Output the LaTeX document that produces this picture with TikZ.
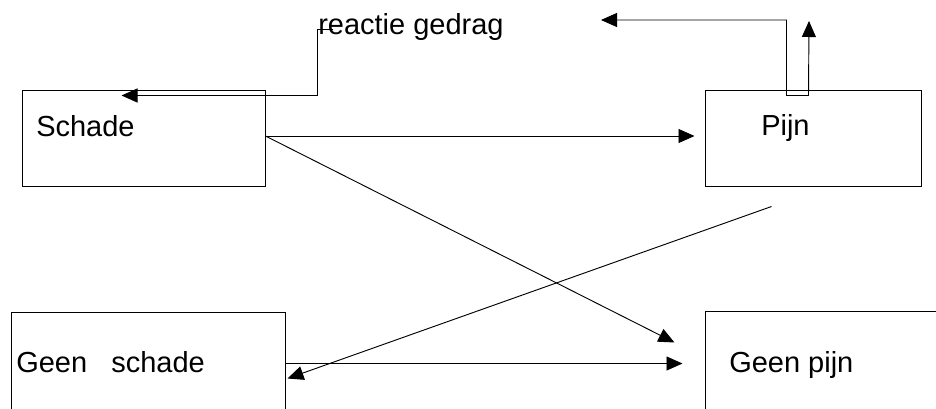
\documentclass[tikz,border=0pt]{standalone}
\usepackage{fontspec}
\setmainfont{Liberation Sans}
\usetikzlibrary{arrows.meta,fit,calc}
\begin{document}
\begin{tikzpicture}[x=0.75pt,y=-0.75pt,
  box/.style={draw,line width=0.75pt,inner sep=0pt},
  lbl/.style={anchor=base west,inner sep=0pt,font=\fontsize{21.75}{26}\selectfont},
  link/.style={line width=0.7pt,-{Triangle[length=12pt,width=10.5pt]}},
  twoway/.style={line width=0.7pt,{Triangle[length=12pt,width=10.5pt]}-{Triangle[length=12pt,width=10.5pt]}}]
\clip (0,0) rectangle (936,408);
\fill[white] (0,0) rectangle (936,408);

% boxes
\node[box,fit={(22,90)(265,186)}] (schade) {};
\node[box,fit={(705,90)(921,186)}] (pijn) {};
\node[box,fit={(11,312)(285,440)}] (geenschade) {};
\node[box,fit={(705,311)(960,440)}] (geenpijn) {};

% labels
\node[lbl] (tschade) at (36,136) {Schade};
\node[lbl] (tpijn) at (761,135) {Pijn};
\node[lbl] (tgeenschade) at (16,372) {Geen\ \ \ schade};
\node[lbl] (tgeenpijn) at (729,372) {Geen pijn};
\node[lbl] (treactie) at (318,34) {reactie gedrag};

% free ends
\coordinate (rgstart) at (333,29);
\coordinate (lefttip) at (601,20);
\coordinate (uptip) at (809,21);

% connectors
\draw[link,shorten >=7.5pt] ($(schade.east)+(0,-2)$) -- ($(pijn.west)+(0,-2)$);
\draw[link] ($(schade.east)+(0,-2)$) -- ($(geenpijn.north west)+(-30,32)$);
\draw[link] ($(geenschade.north east)+(0,52)$) -- ($(geenpijn.north west)+(-22,53)$);
\draw[link] ($(pijn.south west)+(67,20)$) -- ($(geenschade.north east)+(2,67)$);
\draw[link] (rgstart) -- (317,29) |- ($(schade.north west)+(100,6)$);
\draw[twoway] (lefttip) -| ($(pijn.north west)+(82,6)$) -- ++(22,0) -- (uptip);
\end{tikzpicture}
\end{document}
